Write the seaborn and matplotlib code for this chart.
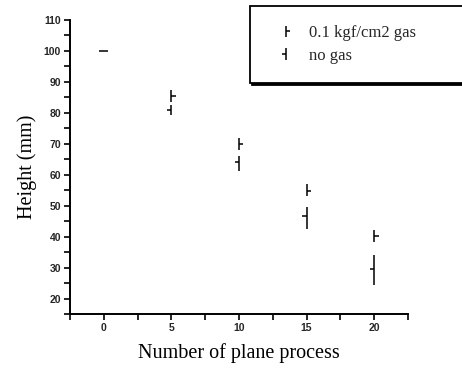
import matplotlib
matplotlib.use("Agg")
import matplotlib.pyplot as plt
import seaborn as sns
import numpy as np
import pandas as pd
from matplotlib.ticker import MultipleLocator

# data
process = [0, 5, 10, 15, 20]
gas_height = [100, 85.5, 70.0, 54.8, 40.3]
gas_lower = [0, 2.0, 1.9, 1.8, 2.0]
gas_upper = [0, 2.0, 2.0, 2.2, 1.9]
nogas_height = [100, 81.0, 64.0, 46.8, 29.6]
nogas_lower = [0, 1.6, 2.7, 4.3, 5.3]
nogas_upper = [0, 1.7, 2.0, 2.7, 4.4]
labels = ["0.1 kgf/cm2 gas", "no gas"]

sns.set_theme(style="ticks")
plt.rcParams['font.family'] = ['Liberation Serif', 'DejaVu Serif']

fig = plt.figure(figsize=(4.62, 3.74), dpi=100)
ax = fig.add_axes([0.1515, 0.160, 0.7315, 0.7865])

df = pd.DataFrame({
    "process": process * 2,
    "height": gas_height + nogas_height,
    "series": [labels[0]] * 5 + [labels[1]] * 5,
})

# markers via seaborn
sns.scatterplot(data=df, x="process", y="height", hue="series", style="series",
                markers={labels[0]: 1, labels[1]: 0}, palette=["black", "black"],
                s=10, linewidth=1.1, ax=ax, legend=False)
# vertical error bars (same marker style so the legend shows bar + tick)
eb_gas = ax.errorbar(process, gas_height, yerr=[gas_lower, gas_upper], fmt='none',
                     ecolor='black', elinewidth=1.1, capsize=0)
eb_nogas = ax.errorbar(process, nogas_height, yerr=[nogas_lower, nogas_upper], fmt='none',
                       ecolor='black', elinewidth=1.1, capsize=0)

ax.set_xlim(-2.5, 22.5)
ax.set_ylim(15, 110)
ax.xaxis.set_major_locator(MultipleLocator(5))
ax.xaxis.set_minor_locator(MultipleLocator(2.5))
ax.yaxis.set_major_locator(MultipleLocator(10))
ax.yaxis.set_minor_locator(MultipleLocator(5))
ax.set_yticks(np.arange(20, 111, 10))
sns.despine(ax=ax)
for s in ["left", "bottom"]:
    ax.spines[s].set_linewidth(1.4)
    ax.spines[s].set_color("black")
ax.tick_params(which='both', direction='out', length=4, width=1.2, color='black')
ax.tick_params(axis='both', which='major', labelsize=7.5, pad=2.5)
for lab in ax.get_xticklabels() + ax.get_yticklabels():
    lab.set_family(['Liberation Sans'])
    lab.set_fontweight('bold')

ax.set_xlabel("Number of plane process", fontsize=14.5, labelpad=7, color='black')
ax.set_ylabel("Height (mm)", fontsize=14.5, labelpad=5, color='black')

# legend handles: error bar + tick marker (same look as the data marks)
from matplotlib.legend_handler import HandlerErrorbar
from matplotlib.container import ErrorbarContainer
from matplotlib.lines import Line2D
from matplotlib.collections import LineCollection


def make_handle(marker):
    line = Line2D([], [], linestyle='none', marker=marker, markersize=3.2,
                  markeredgewidth=1.1, color='black')
    bars = LineCollection([], colors='black', linewidths=1.1)
    return ErrorbarContainer((line, (), (bars,)), has_xerr=False, has_yerr=True)


leg_handles = [make_handle(1), make_handle(0)]
leg = ax.legend(leg_handles, labels, loc='upper left',
                bbox_to_anchor=(250 / 462, 1 - 6 / 374, 216 / 462, 0.0),
                bbox_transform=fig.transFigure, mode='expand',
                handler_map={ErrorbarContainer: HandlerErrorbar(yerr_size=0.35)},
                fontsize=12, frameon=True,
                fancybox=False, edgecolor='black', borderpad=1.15,
                handlelength=2.0, handletextpad=0.4, labelspacing=0.4,
                borderaxespad=0,
                shadow={'color': 'black', 'alpha': 1, 'ox': 1.3, 'oy': -1.3})
leg.get_frame().set_linewidth(1.3)

fig.savefig("out.png", dpi=100)
